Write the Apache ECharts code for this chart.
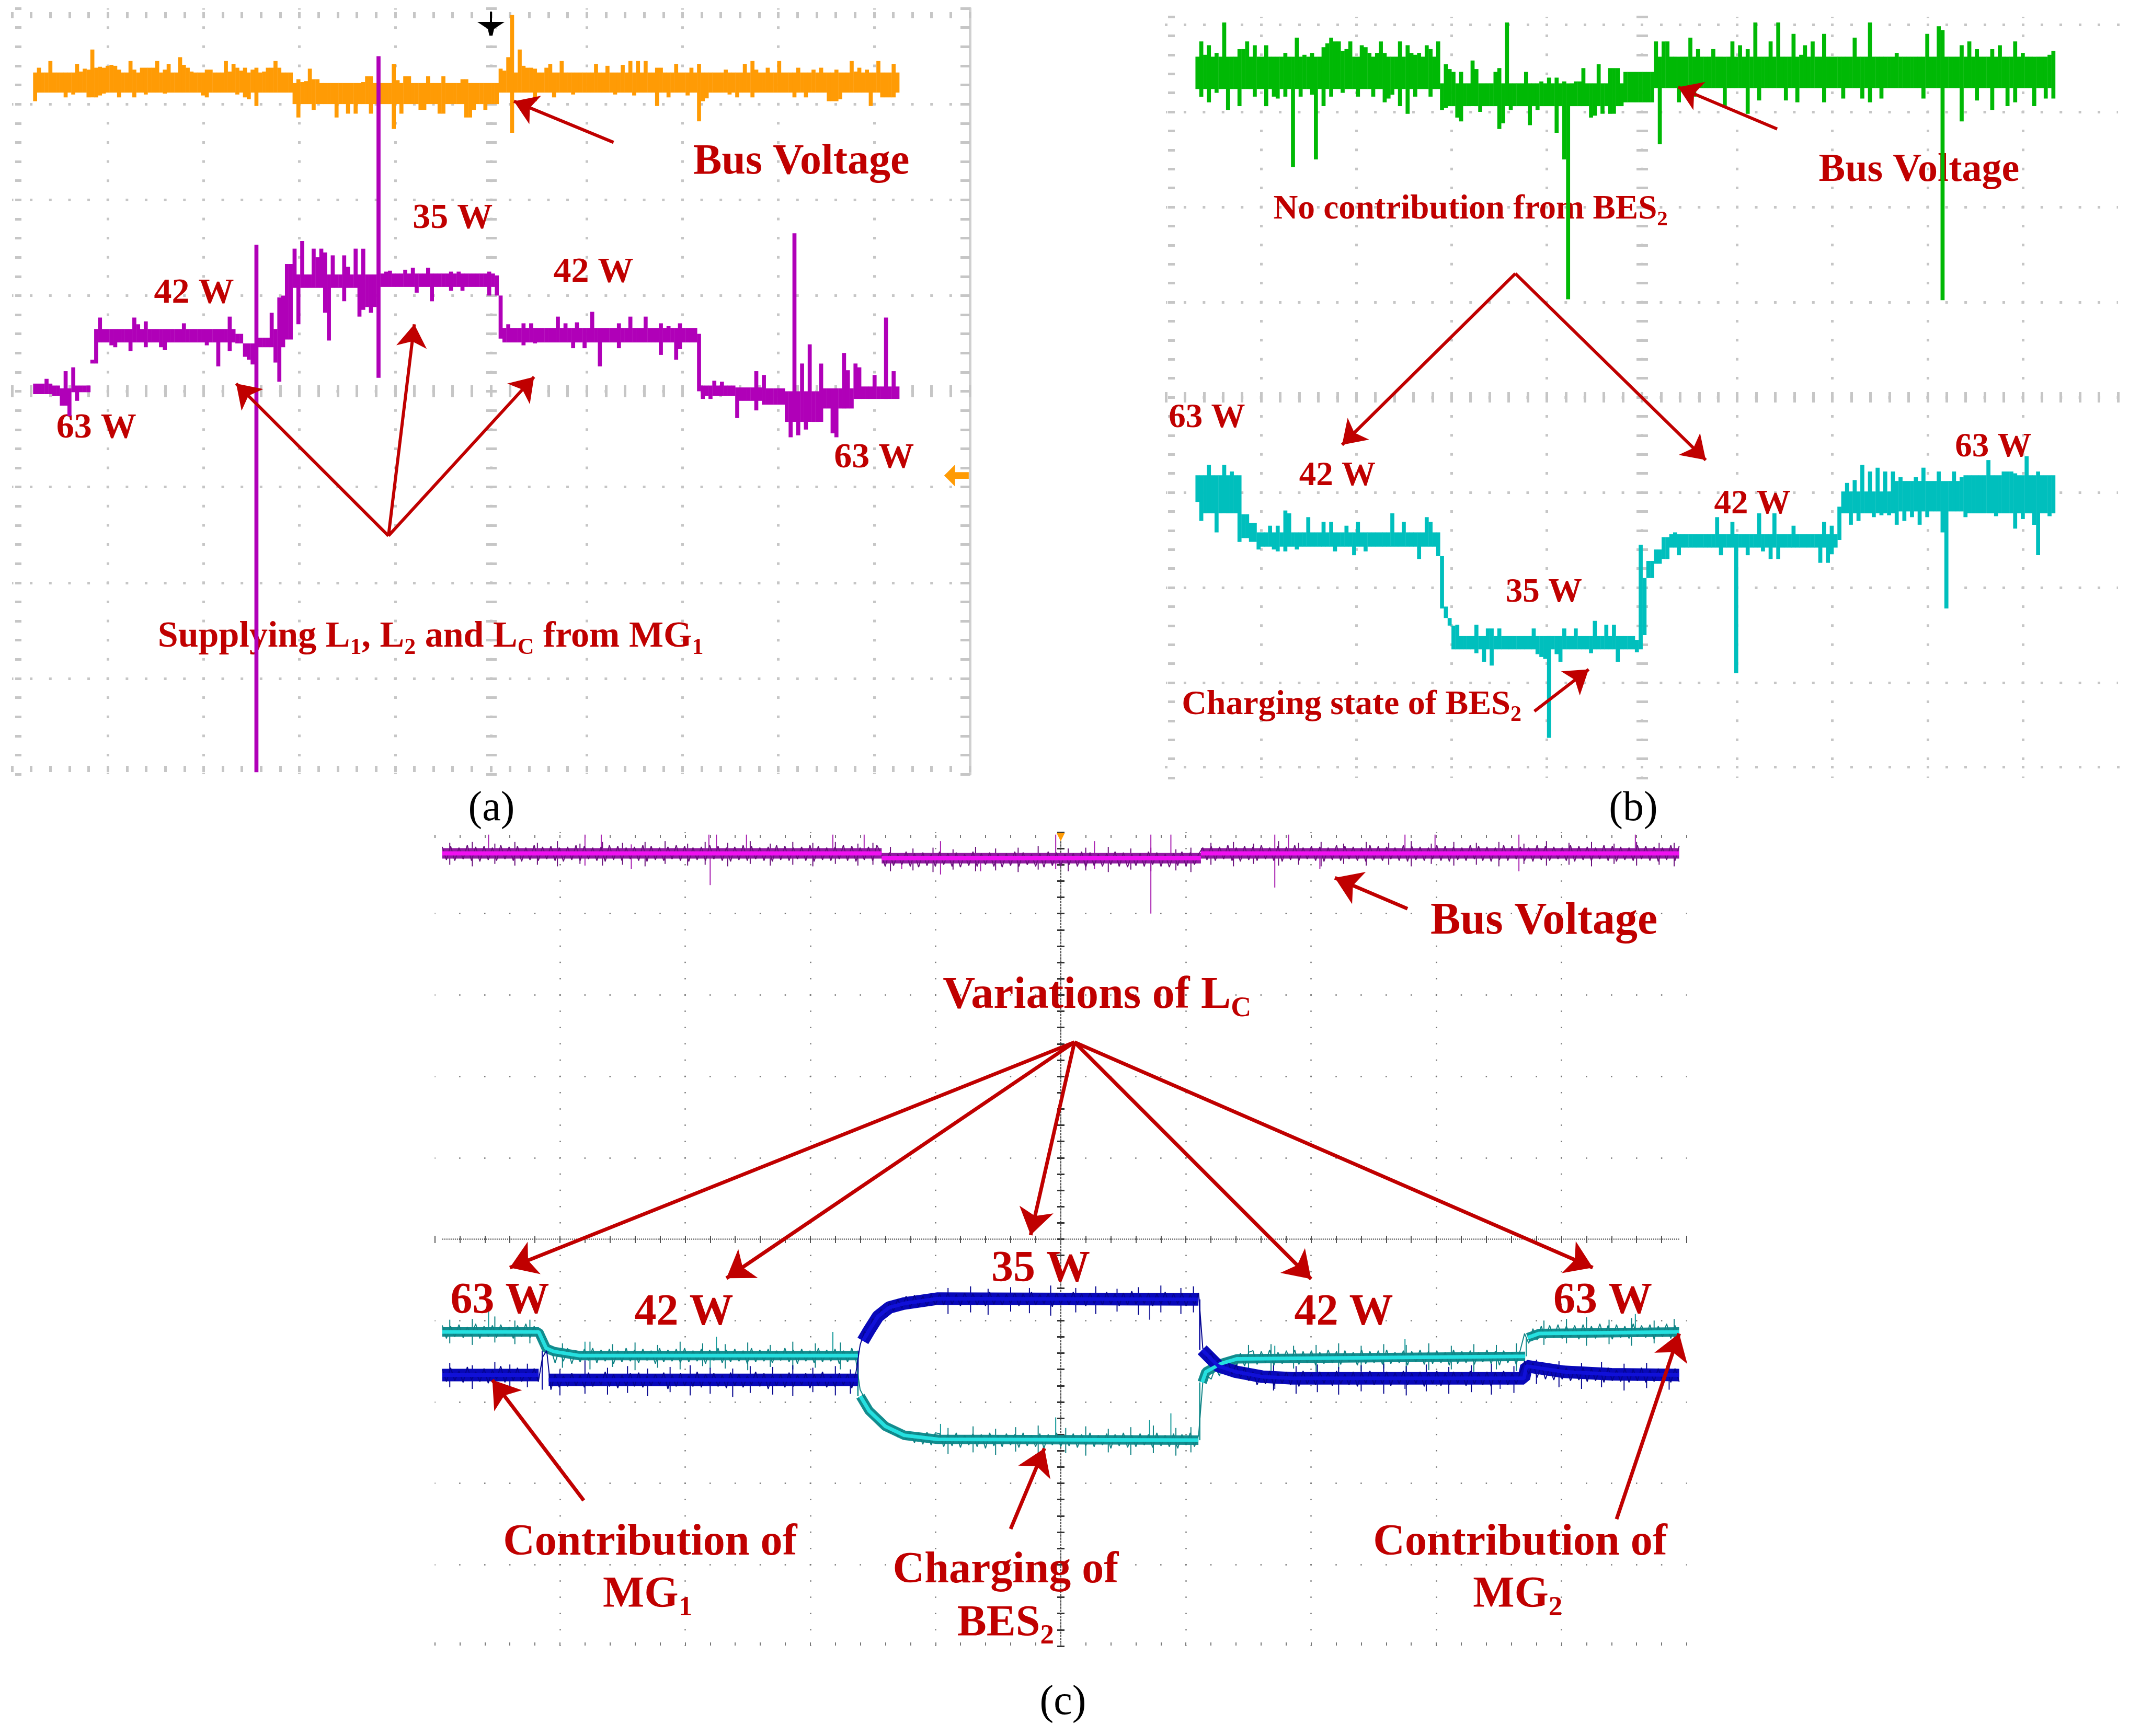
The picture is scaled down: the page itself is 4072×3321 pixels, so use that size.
<!DOCTYPE html>
<html><head><meta charset="utf-8">
<style>html,body{margin:0;padding:0;background:#fff}#c{width:4072px;height:3321px}</style>
<script src="https://cdn.jsdelivr.net/npm/echarts@6/dist/echarts.min.js"></script>
</head><body><div id="c"></div>
<script>
// ---------- panel (a): bands are [firstColumn,lastColumn,top,bottom]; spikes are [column,value]
const aOrangeBands=[[0,67,333,312],[68,121,322,300],[122,226,333,312]];
const aOrangeUp=[[1,338],[2,333],[4,345],[6,332],[7,333],[9,333],[11,342],[12,334],[13,337],[14,336],[15,357],[16,338],[17,339],[18,338],[19,340],[20,341],[21,340],[22,336],[25,345],[26,336],[28,338],[29,338],[30,338],[31,338],[32,345],[33,333],[34,336],[35,342],[36,333],[38,349],[39,341],[40,338],[41,334],[44,333],[45,336],[46,336],[47,333],[50,345],[51,334],[52,342],[53,338],[54,335],[55,338],[56,333],[57,336],[58,338],[60,334],[61,338],[62,338],[63,345],[64,338],[65,333],[66,332],[69,326],[70,323],[71,324],[72,337],[73,326],[74,326],[75,322],[84,322],[85,322],[86,323],[87,329],[88,329],[94,342],[95,325],[97,329],[98,329],[103,329],[107,329],[112,326],[113,326],[115,322],[116,322],[119,320],[122,337],[123,335],[124,349],[125,393],[127,357],[128,340],[129,338],[130,338],[131,337],[134,338],[135,342],[138,345],[139,333],[147,342],[150,340],[154,341],[156,345],[158,345],[160,345],[163,338],[164,338],[168,342],[172,338],[174,342],[181,336],[186,342],[188,345],[189,336],[192,338],[195,345],[200,338],[204,336],[206,338],[210,336],[214,345],[215,334],[216,338],[218,336],[221,345],[223,333],[225,342]];
const aOrangeDown=[[0,303],[8,307],[10,310],[14,307],[15,307],[16,307],[17,309],[18,311],[22,307],[26,307],[29,310],[34,311],[44,309],[45,307],[53,310],[55,307],[56,305],[58,298],[69,286],[73,294],[79,286],[82,290],[84,290],[88,290],[94,274],[96,290],[101,294],[102,294],[106,290],[107,290],[113,286],[114,286],[115,294],[118,294],[125,270],[131,303],[136,307],[141,310],[152,310],[157,309],[163,298],[166,307],[171,309],[174,282],[175,303],[176,306],[182,310],[184,307],[188,307],[199,307],[202,307],[208,303],[209,303],[210,303],[211,305],[219,298],[222,307],[223,307],[224,307],[225,307]];
const aPurpleBands=[[0,4,8,-3],[5,6,6,-5],[7,9,3,-15],[10,14,6,-1],[15,15,33,29],[16,16,65,29],[17,52,65,51],[53,54,60,50],[55,57,50,36],[58,62,56,46],[63,65,65,46],[66,67,133,54],[68,90,122,108],[91,120,123,109],[121,121,121,100],[122,122,100,55],[123,173,66,51],[174,174,60,0],[175,183,6,-5],[184,190,4,-10],[191,196,3,-14],[197,206,0,-32],[207,214,3,-18],[215,226,5,-8]];
const aPurpleUp=[[3,13],[8,21],[10,25],[17,77],[26,77],[27,70],[29,73],[39,71],[51,78],[58,153],[62,82],[64,98],[65,100],[68,149],[70,157],[73,149],[74,140],[75,149],[76,145],[78,142],[81,142],[82,130],[84,149],[86,149],[90,350],[92,125],[93,126],[97,127],[99,129],[101,123],[103,129],[109,125],[111,125],[119,125],[124,70],[128,71],[130,71],[137,78],[139,71],[142,72],[146,83],[153,71],[156,78],[160,78],[164,71],[166,68],[169,71],[178,11],[180,10],[189,21],[191,17],[199,165],[201,29],[203,49],[206,29],[212,40],[213,22],[215,29],[216,25],[220,17],[223,77],[225,21]];
const aPurpleDown=[[9,-26],[11,-10],[20,48],[21,46],[25,42],[29,46],[33,46],[34,43],[45,48],[48,26],[51,42],[56,33],[57,28],[58,-398],[63,30],[64,10],[69,70],[76,82],[77,53],[81,94],[85,78],[86,85],[87,88],[88,82],[89,88],[90,14],[100,103],[104,94],[109,105],[112,105],[119,100],[128,48],[131,50],[141,45],[144,45],[148,26],[153,45],[164,38],[168,33],[169,44],[175,-8],[177,-8],[184,-28],[189,-20],[198,-48],[200,-46],[202,-40],[209,-44],[210,-48]];
// ---------- panel (b)
const bGreenBands=[[0,63,358,324],[64,111,330,306],[112,119,342,310],[120,225,358,325]];
const bGreenUp=[[1,374],[2,360],[3,370],[5,362],[7,394],[10,358],[11,366],[12,366],[13,374],[15,370],[18,370],[21,358],[22,358],[23,362],[26,378],[28,360],[30,362],[33,368],[34,372],[35,378],[36,374],[37,374],[38,364],[39,366],[40,374],[43,370],[44,368],[45,362],[47,362],[48,374],[49,362],[53,374],[55,370],[56,362],[57,360],[58,362],[60,370],[61,366],[63,374],[65,350],[66,345],[67,342],[69,342],[72,354],[73,345],[76,330],[77,330],[78,342],[79,346],[81,394],[86,342],[90,332],[92,336],[94,336],[96,332],[99,332],[100,332],[101,346],[105,350],[108,346],[109,346],[110,346],[120,374],[122,374],[123,374],[129,378],[131,366],[135,366],[140,374],[142,370],[144,366],[146,394],[150,374],[152,394],[156,382],[158,360],[159,370],[161,374],[164,382],[172,378],[176,394],[183,362],[191,382],[194,390],[195,386],[200,370],[202,374],[204,366],[208,366],[210,370],[214,374],[216,362],[221,358],[223,360],[224,364],[225,366]];
const bGreenDown=[[1,316],[3,310],[5,320],[8,302],[11,306],[15,316],[18,306],[20,316],[21,314],[23,316],[25,242],[27,316],[30,318],[31,250],[33,306],[35,316],[38,320],[42,316],[46,316],[49,310],[50,314],[51,318],[53,306],[55,298],[57,316],[61,316],[64,302],[65,304],[68,294],[69,290],[74,300],[79,282],[80,288],[82,302],[87,286],[89,302],[94,278],[96,250],[97,103],[103,294],[104,296],[106,298],[108,298],[109,298],[121,266],[126,310],[130,316],[138,306],[144,298],[147,312],[154,312],[157,310],[164,310],[169,314],[174,314],[176,310],[179,314],[190,314],[195,102],[200,290],[204,312],[208,302],[212,306],[214,310],[219,306],[222,314],[224,314]];
const bTealBands=[[0,0,-82,-110],[1,11,-82,-122],[12,13,-123,-148],[14,15,-132,-152],[16,62,-142,-157],[63,63,-142,-167],[64,64,-167,-222],[65,65,-220,-232],[66,66,-232,-240],[67,67,-240,-250],[68,114,-251,-265],[115,115,-255,-268],[116,116,-155,-265],[117,117,-190,-250],[118,119,-172,-190],[120,121,-160,-175],[122,123,-147,-170],[124,167,-144,-158],[168,168,-115,-150],[169,182,-99,-122],[183,200,-88,-120],[201,225,-82,-122]];
const bTealUp=[[3,-71],[7,-71],[9,-78],[19,-135],[21,-135],[23,-119],[24,-122],[29,-126],[33,-131],[35,-131],[39,-135],[42,-131],[51,-122],[54,-131],[60,-126],[61,-131],[68,-239],[73,-239],[76,-243],[77,-243],[79,-243],[88,-243],[93,-251],[96,-243],[99,-243],[104,-235],[107,-239],[109,-239],[125,-142],[136,-126],[140,-131],[147,-122],[151,-122],[156,-135],[164,-131],[166,-135],[170,-90],[172,-87],[174,-71],[176,-78],[178,-74],[180,-78],[182,-78],[184,-84],[188,-84],[190,-74],[194,-78],[198,-78],[200,-84],[207,-66],[211,-78],[212,-78],[213,-78],[214,-80],[217,-62],[220,-78]];
const bTealDown=[[1,-130],[5,-142],[11,-152],[16,-160],[20,-160],[21,-162],[23,-162],[26,-160],[36,-162],[41,-166],[44,-162],[58,-170],[67,-265],[73,-269],[75,-278],[77,-282],[89,-270],[90,-273],[91,-275],[92,-358],[94,-270],[95,-278],[103,-269],[110,-278],[126,-166],[137,-166],[141,-290],[144,-166],[148,-162],[150,-170],[152,-170],[163,-174],[165,-174],[166,-165],[171,-134],[173,-130],[177,-126],[179,-124],[181,-124],[183,-134],[185,-130],[187,-126],[189,-134],[191,-126],[195,-142],[196,-222],[201,-126],[209,-125],[214,-138],[216,-128],[219,-134],[220,-166],[223,-125]];
// ---------- panel (c)
const cBlue=[-160,-175,-158,-174,-162,-176,-157,-173,-163,-175,-159,-177,-161,-172,-156,-176,-160,-174,-158,-175,-163,-173,-159,-175,-145,-137,
-185,-166,-182,-168,-181,-165,-180,-167,-182,-164,-181,-168,-179,-163,-181,-166,-183,-167,-180,-165,-181,-164,-182,-168,-180,-166,-179,-164,-184,-167,-181,-165,-180,-168,-181,-163,-182,-166,-179,-165,-181,-167,-183,-164,-180,-166,-182,-168,-179,-163,-181,-165,-184,-167,-180,-166,-182,-164,-181,-167,-179,-165,-183,-166,-180,-163,-182,-168,-181,-165,-179,-166,-183,-164,
-130,-114,-116,-98,-100,-86,-92,-78,-88,-74,-85,-70,-84,-69,-83,-70,-82,-68,-81,
-67,-81,-66,-80,-68,-82,-66,-79,-67,-81,-69,-82,-65,-80,-67,-81,-68,-79,-66,-82,-67,-80,-65,-81,-68,-79,-67,-83,-66,-80,-68,-81,-65,-80,-67,-82,-66,-79,-68,-81,-65,-80,-67,-82,-66,-81,-64,-80,-68,-79,-66,-82,-67,-80,-65,-81,-67,-79,-66,-82,-68,-80,-66,
-134,-146,-140,-152,-148,-160,-150,-166,-154,-170,-158,-174,
-163,-179,-164,-178,-162,-180,-165,-177,-163,-179,-164,-181,-162,-178,-165,-179,-163,-177,-164,-180,-162,-178,-166,-179,-163,-181,-164,-177,-162,-179,-165,-178,-163,-180,-164,-178,-162,-179,-165,-177,-163,-181,-164,-178,-162,-180,-165,-179,-163,-177,-164,-180,-162,-178,-165,-179,-163,-181,-164,-177,-162,-179,-165,-178,-163,
-150,-166,-152,-170,-155,-172,-158,-173,-157,-172,-158,-174,-160,-173,-158,-175,-159,-174,-160,-176,-158,-174,-161,-175,-159,-176,-160,-174,-158,-176,-161,-175,-159,-174,-160,-176,-159,-175];
const cTeal=[-106,-122,-107,-120,-105,-121,-108,-119,-104,-122,-107,-120,-106,-121,-105,-119,-108,-122,-106,-120,-104,-121,-107,-122,-120,-134,
-135,-152,-136,-150,-134,-153,-137,-151,-135,-149,-134,-152,-136,-150,-135,-153,-137,-151,-134,-150,-136,-152,-135,-149,-137,-153,-134,-151,-136,-150,-135,-152,-134,-151,-137,-150,-135,-153,-136,-149,-134,-152,-136,-151,-135,-150,-137,-153,-134,-151,-136,-150,-135,-152,-137,-149,-134,-151,-136,-153,-135,-150,-137,-152,-134,-151,-136,-150,-135,-153,-137,-151,-134,-149,
-185,-195,-205,-216,-220,-230,-226,-238,-232,-243,-236,-246,-238,-250,-238,-252,-237,-253,-238,
-239,-255,-240,-254,-238,-256,-241,-253,-239,-255,-240,-257,-238,-254,-241,-255,-239,-253,-240,-256,-238,-254,-241,-255,-239,-257,-240,-253,-238,-255,-241,-254,-239,-256,-240,-254,-238,-255,-241,-253,-239,-257,-240,-254,-238,-256,-241,-255,-239,-253,-240,-256,-238,-254,-241,-255,-239,-257,-240,-253,-238,-255,-241,
-176,-168,-172,-158,-168,-148,-160,-146,-158,-140,-156,-139,
-137,-154,-138,-152,-136,-155,-139,-153,-137,-151,-136,-154,-138,-152,-137,-155,-139,-153,-136,-152,-138,-154,-137,-151,-139,-155,-136,-153,-138,-152,-137,-154,-136,-153,-139,-152,-137,-155,-138,-151,-136,-154,-138,-153,-137,-152,-139,-155,-136,-153,-138,-152,-137,-154,-139,-151,-136,-153,-138,-155,-137,-152,-139,-154,-136,
-116,-128,-110,-124,-107,-122,-106,-121,-105,-122,-107,-120,-106,-123,-105,-121,-107,-122,-104,-120,-106,-123,-105,-121,-107,-122,-104,-120,-106,-121,-105,-123,-107,-120,-104,-122,-106,-121];
const cBus=[482,466,483,465,481,467,484,465,482,464,483,466,481,465,484,467,482,465,483,464,481,466,484,465,482,467,483,465,481,464,482,466,484,465,483,467,481,465,482,464,484,466,483,465,481,467,482,465,484,464,483,466,481,465,482,467,484,465,483,464,481,466,482,465,484,467,483,465,481,464,482,466,484,465,483,467,481,465,482,464,484,466,483,465,481,467,482,465,484,464,483,466,481,465,482,467,484,465,483,464,481,466,482,465,484,
474,458,475,459,473,460,476,458,474,457,475,459,473,458,476,460,474,458,475,457,473,459,476,458,474,460,475,458,473,457,474,459,476,458,475,460,473,458,474,457,476,459,475,458,473,460,474,458,476,457,475,459,473,458,474,460,476,458,475,457,473,459,474,458,476,460,475,458,473,457,474,459,476,458,475,460,473,
481,466,483,465,482,467,484,465,481,464,483,466,482,465,484,467,481,465,483,464,482,466,484,465,481,467,483,465,482,464,481,466,484,465,483,467,482,465,481,464,484,466,483,465,482,467,481,465,484,464,483,466,482,465,481,467,484,465,483,464,482,466,481,465,484,467,483,465,482,464,481,466,484,465,483,467,482,465,481,464,484,466,483,465,482,467,481,465,484,464,483,466,482,465,481,467,484,465,483,464,482,466,481,465,484,467,483,465,482,464,481,466,484,465,483];
const cBlueCore=[[-494,-167],[-417,-167],[-417,null],[-409,-173],[-162,-173],[-162,null],[-158,-125],[-153,-112],[-146,-95],[-137,-84],[-125,-79],[-98,-73],[110,-74],[110,null],[113,-136],[126,-156],[140,-163],[161,-169],[185,-171],[370,-171],[372,-156],[402,-163],[440,-166],[494,-167]];
const cTealCore=[[-494,-114],[-417,-114],[-411,-134],[-405,-138],[-385,-143],[-162,-143],[-162,null],[-160,-193],[-153,-211],[-140,-230],[-125,-241],[-98,-246],[110,-247],[110,null],[113,-176],[116,-163],[128,-153],[141,-147],[371,-144],[371,null],[373,-121],[382,-116],[494,-114]];
const cBusCore=[[-494,474],[-143,474],[-143,null],[-143,468],[112,468],[112,null],[112,474],[494,474]];
const cCentreLine=[[-494,0],[494,0]];
// spikes are [x, low, high]
const cBusSpikes=[[-457,474,497],[-380,459,497],[-367,474,497],[-343,455,485],[-281,474,497],[-275,474,497],[-280,435,474],[-251,474,497],[-182,474,497],[-157,474,497],[-127,455,470],[-96,448,489],[-64,452,470],[-4,455,497],[27,455,489],[72,400,497],[88,470,497],[171,432,497],[182,474,497],[207,455,474],[275,474,497],[299,474,497],[366,452,497],[459,474,497]];
const cTealSpikes=[[-457,-114,-89],[-380,-143,-126],[-275,-143,-120],[-280,-160,-143],[-182,-143,-114],[-96,-246,-227],[-4,-246,-219],[71,-246,-222],[88,-246,-214],[171,-145,-131],[275,-145,-123],[459,-114,-92]];
const cBlueSpikes=[[-380,-173,-149],[71,-99,-74],[171,-184,-171],[275,-184,-171],[351,-184,-171]];
const cBlueJumps=[[-414,-185,-137],[-162,-173,-137],[111,-136,-74]];
const cTealJumps=[[-162,-193,-143],[111,-247,-176],[372,-144,-121]];
// short noise teeth standing out of the bands
const cBusTeeth=[[-488,460,487],[-470,458,488],[-452,461,486],[-436,459,488],[-418,460,487],[-402,458,489],[-384,461,486],[-366,459,488],[-350,460,487],[-332,458,488],[-316,461,489],[-298,459,486],[-284,460,488],[-266,458,487],[-248,461,489],[-232,459,486],[-214,460,488],[-198,458,487],[-180,461,488],[-162,459,486],[-150,460,487],[-136,452,482],[-118,453,480],[-102,451,481],[-86,454,479],[-68,452,482],[-52,453,480],[-34,451,481],[-18,454,483],[6,452,480],[20,453,481],[38,451,482],[56,454,480],[72,452,481],[92,453,479],[104,451,481],[120,460,487],[138,458,488],[154,461,486],[174,459,489],[190,460,487],[208,458,488],[226,461,486],[244,459,488],[262,460,487],[280,458,489],[296,461,486],[314,459,488],[332,460,487],[350,458,488],[370,461,486],[388,459,489],[406,460,487],[424,458,488],[442,461,486],[460,459,488],[478,460,487],[490,458,487]];
const cTealTeeth=[[-488,-128,-99],[-470,-130,-98],[-452,-127,-95],[-436,-129,-100],[-424,-128,-99],[-398,-158,-128],[-376,-160,-126],[-358,-157,-129],[-340,-161,-127],[-322,-158,-130],[-304,-160,-126],[-286,-156,-128],[-268,-159,-129],[-250,-161,-127],[-232,-157,-130],[-214,-160,-126],[-196,-158,-128],[-176,-160,-127],[-90,-264,-232],[-70,-262,-230],[-52,-265,-233],[-36,-261,-231],[-18,-264,-229],[4,-263,-232],[20,-266,-230],[38,-262,-233],[56,-265,-231],[74,-263,-229],[92,-266,-232],[104,-262,-231],[150,-160,-130],[168,-162,-129],[186,-159,-131],[204,-163,-130],[222,-160,-128],[240,-162,-131],[258,-159,-129],[276,-163,-130],[294,-161,-128],[312,-160,-131],[330,-163,-129],[348,-160,-130],[364,-162,-128],[386,-130,-100],[404,-128,-98],[420,-131,-96],[438,-129,-99],[456,-131,-97],[474,-128,-100],[490,-130,-98]];
const cBlueTeeth=[[-488,-182,-152],[-470,-184,-155],[-452,-181,-151],[-440,-183,-154],[-426,-182,-153],[-400,-192,-160],[-380,-190,-149],[-362,-191,-158],[-346,-189,-156],[-330,-193,-159],[-312,-188,-157],[-296,-192,-155],[-280,-190,-158],[-262,-194,-159],[-248,-189,-156],[-230,-191,-157],[-214,-193,-155],[-198,-188,-158],[-180,-192,-156],[-168,-190,-160],[-90,-92,-60],[-72,-90,-58],[-58,-93,-61],[-40,-89,-59],[-25,-91,-60],[-8,-94,-57],[12,-90,-60],[28,-92,-58],[45,-89,-61],[62,-93,-59],[80,-90,-57],[96,-92,-60],[106,-90,-58],[170,-186,-155],[188,-190,-156],[205,-188,-154],[222,-191,-157],[240,-187,-155],[258,-190,-153],[276,-192,-156],[292,-187,-154],[310,-190,-157],[328,-188,-155],[344,-191,-153],[362,-189,-156],[380,-178,-148],[398,-182,-150],[416,-184,-152],[432,-182,-151],[450,-186,-153],[468,-183,-152],[486,-185,-150]];
// ---------- annotations: [x, y, text, font size], "_x" means subscript x
const aNotes=[[324,238,'Bus Voltage',82],[-40,179,'35 W',68],[-310,101,'42 W',68],[107,123,'42 W',68],[-412,-40,'63 W',68],[400,-71,'63 W',68],[-63,-258,'Supplying L_1, L_2 and L_C from MG_1',70]];
const bNotes=[[291,237,'Bus Voltage',76],[-180,196,'No contribution from BES_2',65],[-457,-23,'63 W',65],[-320,-84,'42 W',65],[-103,-207,'35 W',65],[116,-114,'42 W',65],[369,-54,'63 W',65],[-305,-325,'Charging state of BES_2',66]];
const cNotes=[[386,388,'Bus Voltage',86],[29,297,'Variations of L_C',86],[-448,-78,'63 W',84],[-301,-92,'42 W',84],[-16,-39,'35 W',84],[226,-92,'42 W',84],[433,-78,'63 W',84],[-328,-375,'Contribution of',84],[-330,-439,'MG_1',84],[-44,-409,'Charging of',84],[-44,-474,'BES_2',84],[367,-375,'Contribution of',84],[365,-439,'MG_2',84]];
const aArrows=[[128,260,24,303],[-107,-151,-266,8],[-107,-151,-80,70],[-107,-151,45,15]];
const bArrows=[[142,282,38,326],[-133,130,-315,-50],[-133,130,67,-66],[-113,-330,-56,-286]];
const cArrows=[[277,406,219,444],[11,242,-440,-35],[11,242,-267,-48],[11,242,-24,5],[11,242,200,-49],[11,242,425,-35],[-381,-321,-454,-173],[-40,-356,-13,-257],[444,-344,494,-116]];
const panelLabels=['(a)','(b)','(c)'];

// ---------- builders
const RED='#c00000';
function buildCols(n,x0,x1,bands,ups,downs){
  const w=(x1-x0)/n,t=[],b=[];
  bands.forEach(([s,e,tp,bt])=>{for(let i=s;i<=e;i++){t[i]=tp;b[i]=bt;}});
  ups.forEach(([i,v])=>{t[i]=Math.max(t[i],v);});
  downs.forEach(([i,v])=>{b[i]=Math.min(b[i],v);});
  const out=[];
  for(let i=0;i<n;i++) out.push([x0+i*w,x0+(i+1)*w,b[i],t[i]]);
  return out;
}
function colSeries(g,data,color){
  return {type:'custom',xAxisIndex:g*3,yAxisIndex:g*3,z:3,clip:false,silent:true,data,
    encode:{x:[0,1],y:[2,3]},
    renderItem:(p,api)=>{
      const a=api.coord([api.value(0),api.value(3)]),b=api.coord([api.value(1),api.value(2)]);
      return {type:'rect',shape:{x:a[0],y:a[1],width:b[0]-a[0]+0.4,height:b[1]-a[1]},style:{fill:color}};
    }};
}
function spikeSeries(g,data,color,w){
  return {type:'custom',xAxisIndex:g*3,yAxisIndex:g*3,z:3,silent:true,data,
    encode:{x:0,y:[1,2]},
    renderItem:(p,api)=>{
      const a=api.coord([api.value(0),api.value(1)]),b=api.coord([api.value(0),api.value(2)]);
      return {type:'line',shape:{x1:a[0],y1:a[1],x2:b[0],y2:b[1]},style:{stroke:color,lineWidth:w}};
    }};
}
function lineSeries(g,data,color,w,z,dash){
  return {type:'line',xAxisIndex:g*3,yAxisIndex:g*3,data,showSymbol:false,symbol:'none',z:z||3,silent:true,connectNulls:false,
    lineStyle:{color,width:w,join:'bevel',type:dash||'solid'}};
}
function zig(arr){const n=arr.length,st=988/(n-1);return arr.map((v,i)=>[-494+i*st,v]);}
function arrowSeries(g,arr,w,size){
  return {type:'lines',coordinateSystem:'cartesian2d',xAxisIndex:g*3,yAxisIndex:g*3,z:6,clip:false,silent:true,
    symbol:['none','arrow'],symbolSize:size,
    lineStyle:{color:RED,width:w,opacity:1,curveness:0},
    data:arr.map(a=>({coords:[[a[0],a[1]],[a[2],a[3]]]}))};
}
function richText(s,size){
  const parts=s.split(/_(.)/);let o='';
  parts.forEach((p,i)=>{ if(!p) return; o+= i%2 ? '{s'+size+'|'+p+'}' : '{m'+size+'|'+p+'}'; });
  return o;
}
const richStyles={};
[65,66,68,70,76,82,84,86].forEach(sz=>{
  richStyles['m'+sz]={fontFamily:'Liberation Serif',fontWeight:'bold',fontSize:sz,color:RED,verticalAlign:'bottom',lineHeight:sz*1.15,padding:[0,0,Math.round(sz*0.1),0]};
  richStyles['s'+sz]={fontFamily:'Liberation Serif',fontWeight:'bold',fontSize:Math.round(sz*0.63),color:RED,verticalAlign:'bottom',lineHeight:sz*1.15};
});
function noteSeries(g,arr){
  return {type:'scatter',xAxisIndex:g*3,yAxisIndex:g*3,z:2,clip:false,silent:true,symbolSize:1,itemStyle:{opacity:0},
    data:arr.map(a=>({value:[a[0],a[1]],txt:richText(a[2],a[3])})),
    label:{show:true,position:'inside',formatter:p=>p.data.txt,rich:richStyles,opacity:1},
    labelLayout:{hideOverlap:false}};
}
function markerSeries(g,x,y,symbol,size,color,rotate){
  return {type:'scatter',xAxisIndex:g*3,yAxisIndex:g*3,z:7,clip:false,silent:true,symbol,symbolSize:size,symbolRotate:rotate||0,
    itemStyle:{color,opacity:1},data:[[x,y]]};
}
// ---------- scope graticule: one set of axes per panel, ticks on edges and centre
const panels=[
 {left:23,top:16,w:1832,h:1465,ymax:400,dot:{c:'#c6c6c6',s:5},
  top_:{off:-7,len:12},bottom_:{off:-4,len:12},left_:{off:-6,len:12},right_:{len:18},
  cx:{off:-(1481-760),len:23,c:'#c6c6c6',s:5},cy:{off:-(930-23),len:20,c:'#c6c6c6',s:5},edge:{c:'#c6c6c6',s:5}},
 {left:2230,top:32,w:1821,h:1456,ymax:400,dot:{c:'#c6c6c6',s:5},
  top_:{off:-13,len:5},bottom_:{off:-18,len:5},left_:{off:-4,len:13},right_:null,
  cx:{off:-(1488-770),len:20,c:'#c6c6c6',s:5},cy:{off:-(3130-2230),len:22,c:'#c6c6c6',s:5},edge:{c:'#c6c6c6',s:5}},
 {left:831.5,top:1592,w:2394.5,h:1557,ymax:500,dot:{c:'#777',s:2.5},
  top_:{off:-5,len:6},bottom_:{off:-1,len:6},left_:null,right_:null,
  cx:{off:-(3149-2371)+7,len:14,c:'#555',s:2},cy:{off:-(2029-831.5)+7,len:14,c:'#333',s:3},edge:{c:'#777',s:2}}
];
const grids=[],xAxes=[],yAxes=[];
panels.forEach((p,g)=>{
  grids.push({left:p.left,top:p.top,width:p.w,height:p.h,show:false});
  const stepX=p.w/50,stepY=p.h/(p.ymax/10);
  const base=(ymax,extra)=>Object.assign({gridIndex:g,type:'value',min:-ymax,max:ymax,interval:100,axisLabel:{show:false},
     axisLine:{show:false,onZero:false},axisTick:{show:false},minorTick:{show:false},splitLine:{show:false},minorSplitLine:{show:false}},extra);
  const tick=(len,c,s)=>({axisTick:{show:true,inside:true,length:len,lineStyle:{color:c,width:s}},minorTick:{show:true,splitNumber:5,length:len,lineStyle:{color:c,width:s}}});
  const e=p.edge;
  xAxes.push(base(500,Object.assign({position:'bottom',offset:p.bottom_.off,
    splitLine:{show:true,showMinLine:false,showMaxLine:false,lineStyle:{color:p.dot.c,width:p.dot.s,type:[p.dot.s,stepY-p.dot.s],dashOffset:p.dot.s/2}}},tick(p.bottom_.len,e.c,e.s))));
  xAxes.push(base(500,Object.assign({position:'top',offset:p.top_.off},tick(p.top_.len,e.c,e.s))));
  const cx=p.cx;
  xAxes.push(base(500,Object.assign({position:'bottom',offset:cx.off},tick(cx.len,cx.c,cx.s))));
  yAxes.push(base(p.ymax,Object.assign({position:'left',offset:p.left_?p.left_.off:0,
    splitLine:{show:true,showMinLine:false,showMaxLine:false,lineStyle:{color:p.dot.c,width:p.dot.s,type:[p.dot.s,stepX-p.dot.s],dashOffset:p.dot.s/2}}},p.left_?tick(p.left_.len,e.c,e.s):{})));
  yAxes.push(base(p.ymax,Object.assign({position:'right'},p.right_?tick(p.right_.len,e.c,e.s):{},p.right_?{axisLine:{show:true,onZero:false,lineStyle:{color:'#d0d0d0',width:5}}}:{})));
  const cy=p.cy;
  yAxes.push(base(p.ymax,Object.assign({position:'left',offset:cy.off},tick(cy.len,cy.c,cy.s))));
});
// vertical centre line of panel (c)
yAxes.push({gridIndex:2,type:'value',min:-500,max:500,interval:100,position:'left',offset:-(2029-831.5),axisLabel:{show:false},axisTick:{show:false},splitLine:{show:false},axisLine:{show:true,onZero:false,lineStyle:{color:'#444',width:2,type:[3,3]}}});

const series=[
 colSeries(0,buildCols(227,-478,426.3,aOrangeBands,aOrangeUp,aOrangeDown),'#ff9b05'),
 colSeries(0,buildCols(227,-478,426.3,aPurpleBands,aPurpleUp,aPurpleDown),'#b000b8'),
 colSeries(1,buildCols(225,-469,434,bGreenBands,bGreenUp,bGreenDown),'#00b905'),
 colSeries(1,buildCols(225,-469,434,bTealBands,bTealUp,bTealDown),'#00bfbd'),
 lineSeries(2,cCentreLine,'#333',2,1,[2,2]),
 lineSeries(2,cBusCore,'#8f1aa0',20,3),
 spikeSeries(2,cBusTeeth,'#6a0f7c',2),
 lineSeries(2,zig(cBus),'#6a0f7c',2),
 lineSeries(2,cBusCore,'#f010f0',8,4),
 spikeSeries(2,cBusSpikes,'#a81fb0',2),
 lineSeries(2,cTealCore,'#128c8e',18,3),
 spikeSeries(2,cTealTeeth,'#0f8284',2),
 lineSeries(2,zig(cTeal),'#0f8284',2),
 spikeSeries(2,cTealJumps,'#2a9a9a',3),
 lineSeries(2,cTealCore,'#25e0e0',7,4),
 spikeSeries(2,cTealSpikes,'#159a9a',2),
 lineSeries(2,cBlueCore,'#0808b8',24,3),
 spikeSeries(2,cBlueTeeth,'#05058f',2),
 lineSeries(2,zig(cBlue),'#05058f',2),
 spikeSeries(2,cBlueJumps,'#2020a8',3),
 lineSeries(2,cBlueCore,'#1010d8',7,4),
 spikeSeries(2,cBlueSpikes,'#2a2aa0',2),
 noteSeries(0,aNotes),noteSeries(1,bNotes),noteSeries(2,cNotes),
 arrowSeries(0,aArrows,6,44),arrowSeries(1,bArrows,6,44),arrowSeries(2,cArrows,7,50),
 markerSeries(0,0,384,'path://M24 0h4v18h24l-20 12-3 12h-6l-3-12L0 18h24z',[52,46],'#000'),
 markerSeries(0,486,-88,'path://M0 10L16 0V7H36V13H16V20Z',[47,42],'#ff9b05'),
 markerSeries(2,0,494,'triangle',16,'#ff9b05',180)
];
const chart=echarts.init(document.getElementById('c'),null,{renderer:'canvas'});
chart.setOption({
  animation:false,backgroundColor:'#fff',
  title:[[940,1508],[3124,1508],[2033,3218]].map((q,i)=>({text:panelLabels[i],left:q[0],top:q[1],textAlign:'center',padding:0,
     textStyle:{fontFamily:'Liberation Serif',fontWeight:'normal',fontSize:80,color:'#000'}})),
  grid:grids,xAxis:xAxes,yAxis:yAxes,series
});
</script></body></html>
